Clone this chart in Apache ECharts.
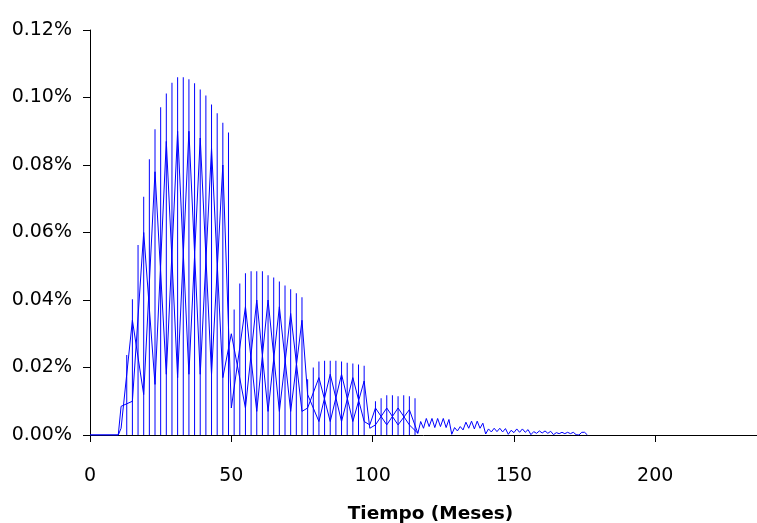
<!DOCTYPE html>
<html>
<head>
<meta charset="utf-8">
<script src="https://cdn.jsdelivr.net/npm/echarts@6/dist/echarts.min.js"></script>
<style>
html,body{margin:0;padding:0;background:#fff;overflow:hidden;}
#chart{width:757px;height:523px;}
</style>
</head>
<body>
<div id="chart"></div>
<script>
// Values in percent (0.1 means 0.10%)
const spikeMonths = [13,15,17,19,21,23,25,27,29,31,33,35,37,39,41,43,45,47,49,
  51,53,55,57,59,61,63,65,67,69,71,73,75,
  77,79,81,83,85,87,89,91,93,95,97,
  101,103,105,107,109,111,113,115];
const spikeValues = [0.0237,0.0402,0.0563,0.0706,0.0817,0.0906,0.0971,0.1012,0.1044,0.1060,0.1060,0.1054,0.1042,0.1024,0.1006,0.0979,0.0953,0.0925,0.0896,
  0.0372,0.0449,0.0479,0.0485,0.0485,0.0485,0.0473,0.0467,0.0455,0.0443,0.0432,0.0420,0.0408,
  0.0165,0.0200,0.0218,0.0220,0.0220,0.0220,0.0218,0.0214,0.0212,0.0209,0.0205,
  0.0100,0.0109,0.0118,0.0118,0.0115,0.0118,0.0115,0.0109];

const zigMonths = [0,10,11,15,19,23,27,31,35,39,43,47,50,55,59,63,67,71,75,77,81,85,89,93,97,99,101,105,109,113,116];
const zigAValues = [0,0,0.0085,0.0100,0.0600,0.0150,0.0870,0.0170,0.0900,0.0180,0.0850,0.0170,0.0300,0.0080,0.0400,0.0070,0.0380,0.0070,0.0340,0.0120,0.0040,0.0180,0.0040,0.0170,0.0040,0.0030,0.0080,0.0030,0.0080,0.0030,0.0005];
const zigBValues = [0,0,0.0020,0.0340,0.0120,0.0780,0.0180,0.0900,0.0180,0.0880,0.0180,0.0800,0.0080,0.0380,0.0070,0.0400,0.0070,0.0360,0.0070,0.0080,0.0170,0.0040,0.0180,0.0040,0.0160,0.0020,0.0030,0.0080,0.0030,0.0075,0.0005];

const tailMonths = [116,117,118,119,120,121,122,123,124,125,126,127,128,129,130,131,132,133,134,135,136,137,138,139,140,
  141,142,143,144,145,146,147,148,149,150,151,152,153,154,155,156,157,158,159,160,161,162,163,164,165,166,167,168,169,170,171,172,173,174,175,176];
const tailValues = [0.0005,0.0040,0.0020,0.0049,0.0025,0.0049,0.0022,0.0049,0.0025,0.0049,0.0022,0.0046,0.0002,0.0022,0.0012,0.0025,0.0015,0.0038,0.0020,0.0041,0.0018,0.0041,0.0020,0.0035,0.0003,
  0.0018,0.0009,0.0020,0.0010,0.0020,0.0009,0.0019,0.0002,0.0014,0.0007,0.0018,0.0008,0.0018,0.0008,0.0016,0.0001,0.0010,0.0005,0.0012,0.0006,0.0012,0.0005,0.0011,0.0001,0.0007,0.0004,0.0008,0.0004,0.0008,0.0004,0.0008,0.0001,0.0000,0.0008,0.0008,0.0000];

const xTicks = {min:0, max:236, interval:50};
const yTicks = {min:0, max:0.12, interval:0.02};
const xName = 'Tiempo (Meses)';

const pair = (xs, ys) => xs.map((x,i)=>[x, ys[i]]);
const FONT = 'DejaVu Sans';
const BLUE = '#0000ff';

const chart = echarts.init(document.getElementById('chart'), null, {renderer:'canvas'});
chart.setOption({
  animation:false,
  backgroundColor:'#ffffff',
  grid:{left:90, right:0, top:30, bottom:88, containLabel:false, outerBoundsMode:'none'},
  xAxis:{
    type:'value', min:xTicks.min, max:xTicks.max, interval:xTicks.interval,
    name:xName, nameLocation:'middle', nameGap:70,
    nameTextStyle:{fontFamily:FONT, fontSize:18.5, fontWeight:'bold', color:'#000', padding:[0,0,0,14]},
    axisLine:{show:true, onZero:false, lineStyle:{color:'#000', width:1}},
    axisTick:{show:true, inside:false, length:7, lineStyle:{color:'#000'}},
    axisLabel:{fontFamily:FONT, fontSize:19, color:'#000', margin:32, showMaxLabel:false},
    splitLine:{show:false}
  },
  yAxis:{
    type:'value', min:yTicks.min, max:yTicks.max, interval:yTicks.interval,
    axisLine:{show:true, lineStyle:{color:'#000', width:1}},
    axisTick:{show:true, inside:false, length:7, lineStyle:{color:'#000'}},
    axisLabel:{fontFamily:FONT, fontSize:19, color:'#000', margin:18,
      formatter:v=>v.toFixed(2)+'%'},
    splitLine:{show:false}
  },
  series:[
    {type:'bar', data:pair(spikeMonths, spikeValues), barWidth:1, itemStyle:{color:BLUE}, silent:true},
    {type:'line', data:pair(zigMonths, zigAValues), symbol:'none', lineStyle:{color:BLUE, width:1}, silent:true},
    {type:'line', data:pair(zigMonths, zigBValues), symbol:'none', lineStyle:{color:BLUE, width:1}, silent:true},
    {type:'line', data:pair(tailMonths, tailValues), symbol:'none', lineStyle:{color:BLUE, width:1}, silent:true}
  ]
});
</script>
</body>
</html>
